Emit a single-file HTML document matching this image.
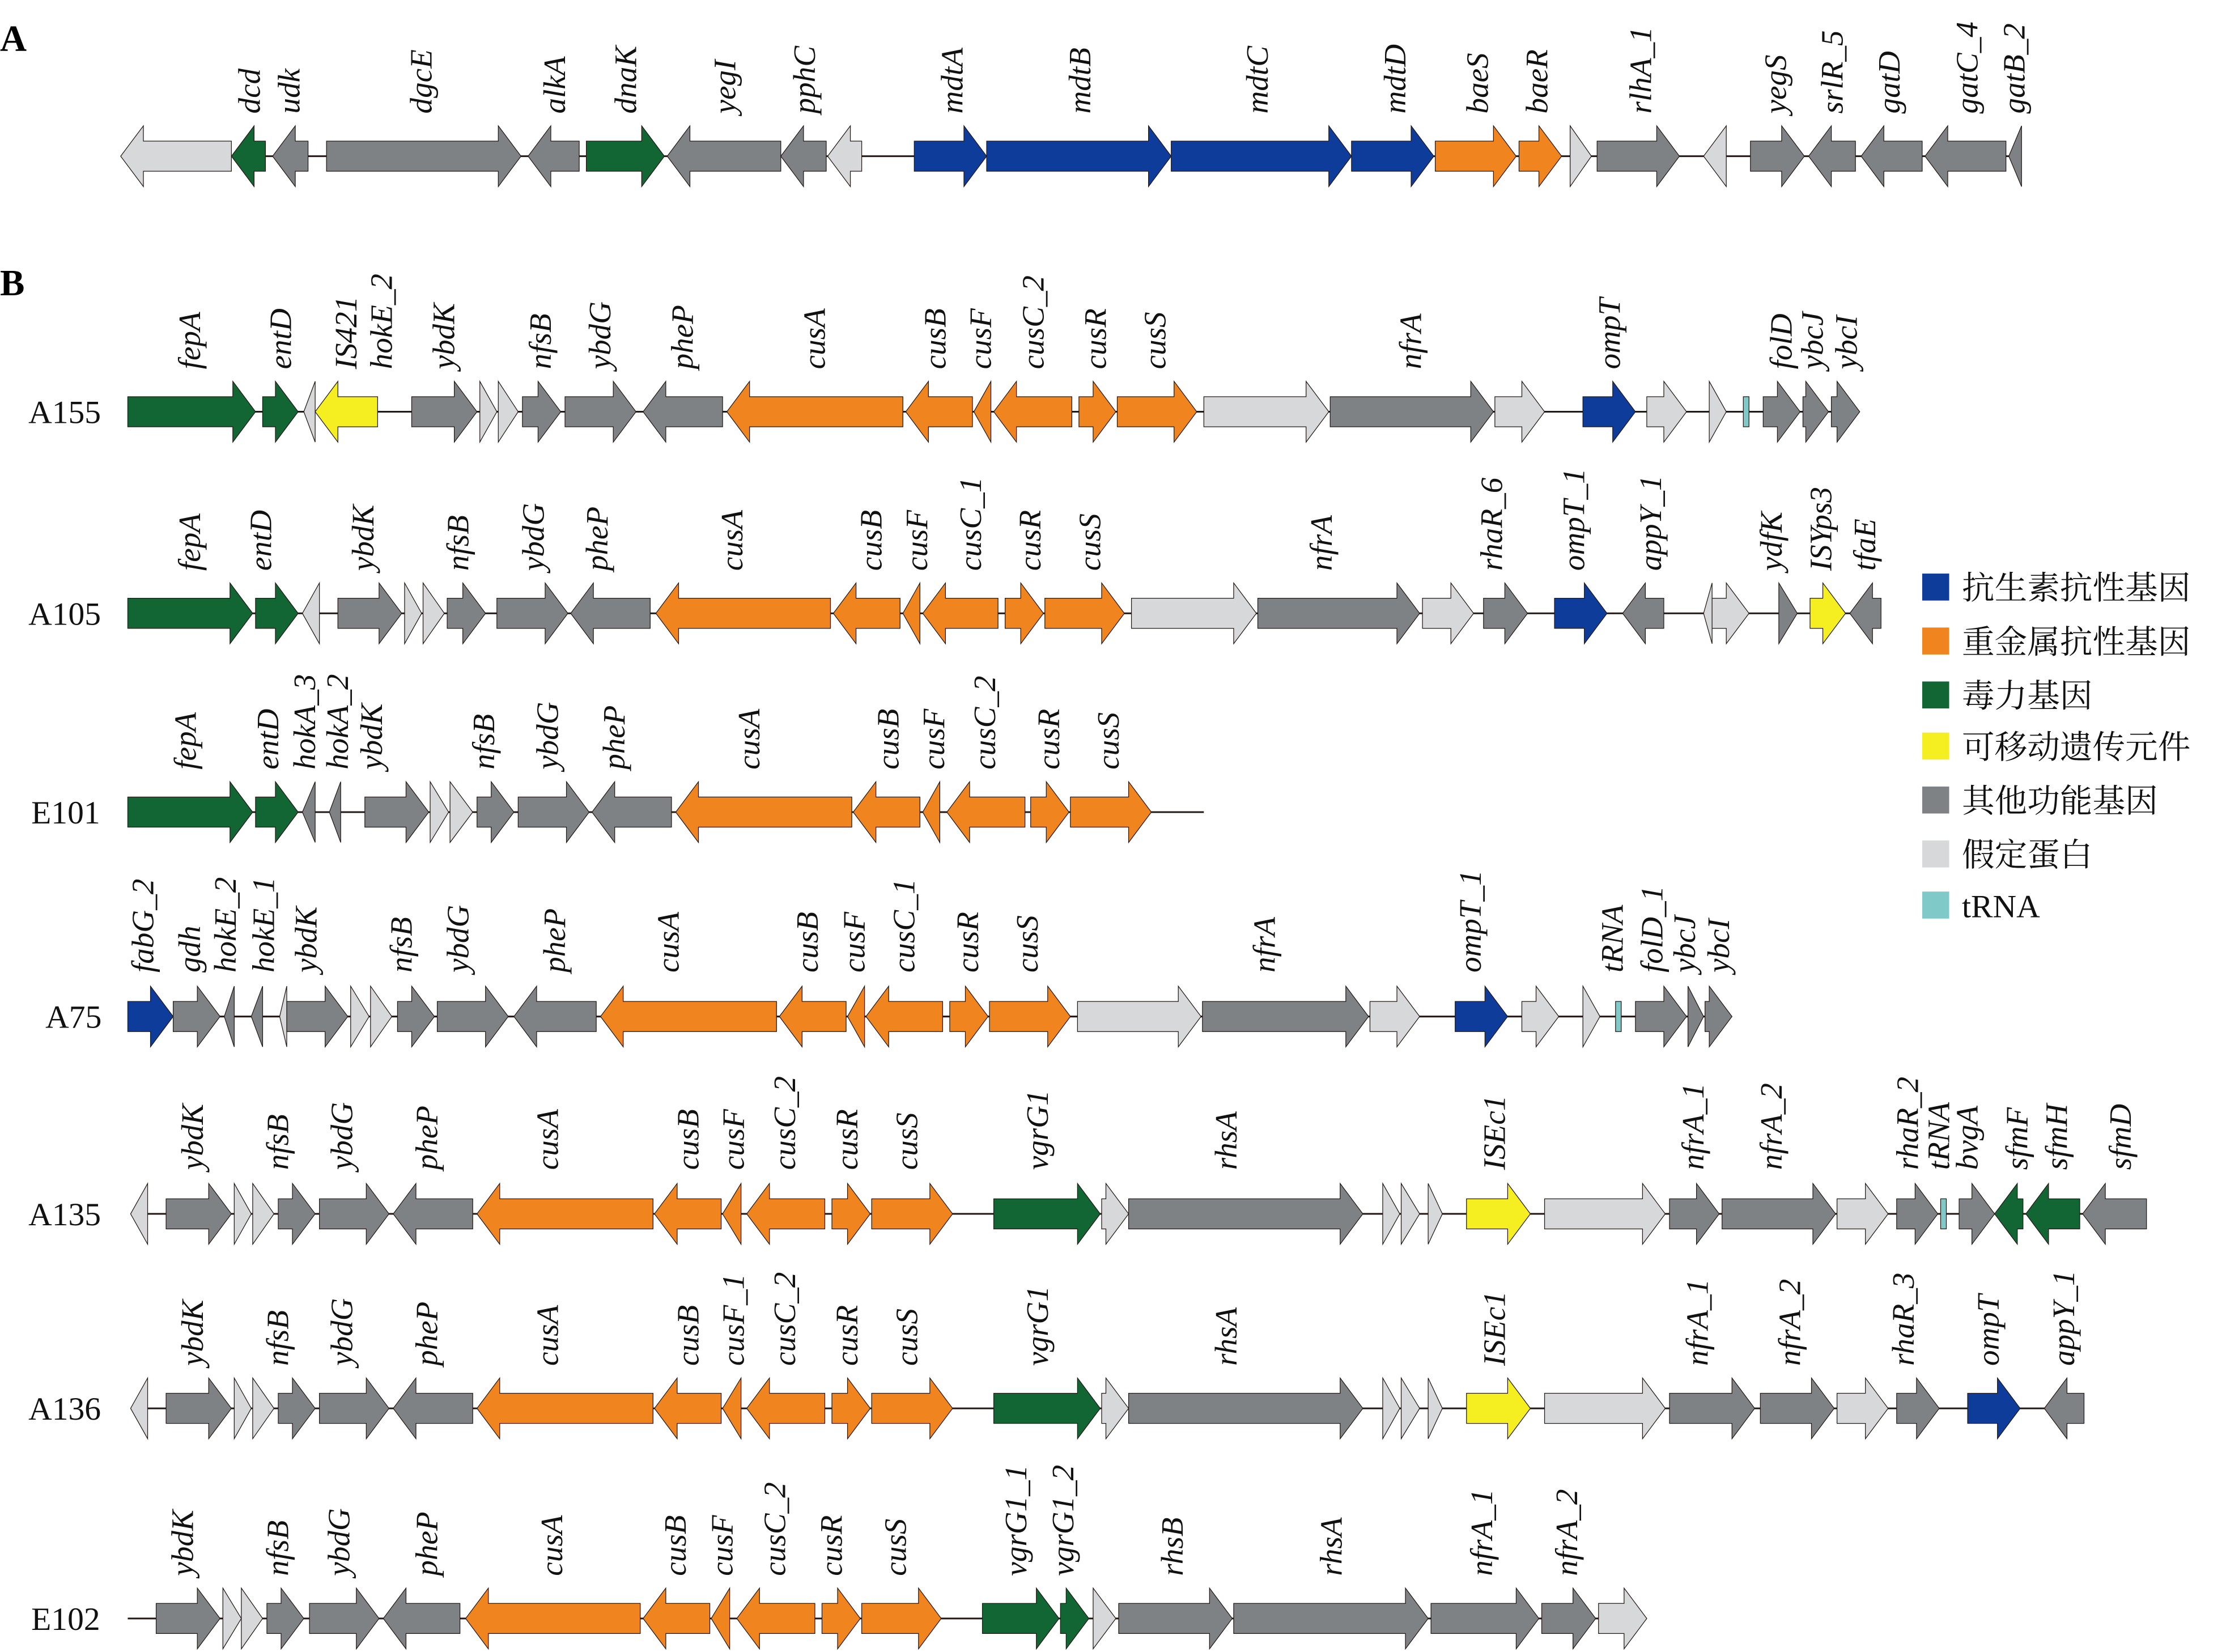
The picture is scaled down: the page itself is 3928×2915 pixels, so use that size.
<!DOCTYPE html>
<html><head><meta charset="utf-8">
<style>
html,body{margin:0;padding:0;background:#fff;}
svg{display:block;}
.l text{font-family:"Liberation Serif",serif;font-style:italic;font-size:22px;fill:#111;}
.r{font-family:"Liberation Serif",serif;font-size:23px;fill:#111;}
.lg{font-family:"Liberation Serif","Noto Serif CJK SC",serif;font-size:23px;fill:#111;}
</style></head>
<body>
<svg id="s" xmlns="http://www.w3.org/2000/svg" width="3928" height="2915" viewBox="0 0 1568 1163.6">
<rect width="1568" height="1164" fill="#fff"/>
<text x="0" y="36" font-family="Liberation Serif,serif" font-weight="bold" font-size="26">A</text>
<text x="0" y="208" font-family="Liberation Serif,serif" font-weight="bold" font-size="26">B</text>
<g class="r">
<text x="20" y="298">A155</text>
<text x="20" y="440">A105</text>
<text x="22" y="580">E101</text>
<text x="32" y="724">A75</text>
<text x="20" y="863">A135</text>
<text x="20" y="1000">A136</text>
<text x="22" y="1148">E102</text>
</g>
<g id="genes"></g>
<!-- labels row A -->
<g class="l">
<text transform="translate(183,80)rotate(-90)">dcd</text>
<text transform="translate(211,80)rotate(-90)">udk</text>
<text transform="translate(304,80)rotate(-90)">dgcE</text>
<text transform="translate(398,80)rotate(-90)">alkA</text>
<text transform="translate(448,80)rotate(-90)">dnaK</text>
<text transform="translate(518,80)rotate(-90)">yegI</text>
<text transform="translate(574,80)rotate(-90)">pphC</text>
<text transform="translate(678,80)rotate(-90)">mdtA</text>
<text transform="translate(768,80)rotate(-90)">mdtB</text>
<text transform="translate(893,80)rotate(-90)">mdtC</text>
<text transform="translate(990,80)rotate(-90)">mdtD</text>
<text transform="translate(1048,80)rotate(-90)">baeS</text>
<text transform="translate(1090,80)rotate(-90)">baeR</text>
<text transform="translate(1163,80)rotate(-90)">rlhA_1</text>
<text transform="translate(1258,80)rotate(-90)">yegS</text>
<text transform="translate(1298,80)rotate(-90)">srlR_5</text>
<text transform="translate(1338,80)rotate(-90)">gatD</text>
<text transform="translate(1393,80)rotate(-90)">gatC_4</text>
<text transform="translate(1426,80)rotate(-90)">gatB_2</text>
</g>
<!-- A155 -->
<g class="l">
<text transform="translate(141,260)rotate(-90)">fepA</text>
<text transform="translate(205,260)rotate(-90)">entD</text>
<text transform="translate(251,260)rotate(-90)">IS421</text>
<text transform="translate(276,260)rotate(-90)">hokE_2</text>
<text transform="translate(320,260)rotate(-90)">ybdK</text>
<text transform="translate(388,260)rotate(-90)">nfsB</text>
<text transform="translate(430,260)rotate(-90)">ybdG</text>
<text transform="translate(488,260)rotate(-90)">pheP</text>
<text transform="translate(581,260)rotate(-90)">cusA</text>
<text transform="translate(666,260)rotate(-90)">cusB</text>
<text transform="translate(698,260)rotate(-90)">cusF</text>
<text transform="translate(735,260)rotate(-90)">cusC_2</text>
<text transform="translate(779,260)rotate(-90)">cusR</text>
<text transform="translate(821,260)rotate(-90)">cusS</text>
<text transform="translate(1001,260)rotate(-90)">nfrA</text>
<text transform="translate(1141,260)rotate(-90)">ompT</text>
<text transform="translate(1262,260)rotate(-90)">folD</text>
<text transform="translate(1284,260)rotate(-90)">ybcJ</text>
<text transform="translate(1308,260)rotate(-90)">ybcI</text>
</g>
<!-- A105 -->
<g class="l">
<text transform="translate(141,402)rotate(-90)">fepA</text>
<text transform="translate(191,402)rotate(-90)">entD</text>
<text transform="translate(263,402)rotate(-90)">ybdK</text>
<text transform="translate(330,402)rotate(-90)">nfsB</text>
<text transform="translate(383,402)rotate(-90)">ybdG</text>
<text transform="translate(428,402)rotate(-90)">pheP</text>
<text transform="translate(523,402)rotate(-90)">cusA</text>
<text transform="translate(621,402)rotate(-90)">cusB</text>
<text transform="translate(653,402)rotate(-90)">cusF</text>
<text transform="translate(691,402)rotate(-90)">cusC_1</text>
<text transform="translate(733,402)rotate(-90)">cusR</text>
<text transform="translate(775,402)rotate(-90)">cusS</text>
<text transform="translate(938,402)rotate(-90)">nfrA</text>
<text transform="translate(1058,402)rotate(-90)">rhaR_6</text>
<text transform="translate(1116,402)rotate(-90)">ompT_1</text>
<text transform="translate(1170,402)rotate(-90)">appY_1</text>
<text transform="translate(1255,402)rotate(-90)">ydfK</text>
<text transform="translate(1290,402)rotate(-90)">ISYps3</text>
<text transform="translate(1321,402)rotate(-90)">tfaE</text>
</g>
<!-- E101 -->
<g class="l">
<text transform="translate(138,542)rotate(-90)">fepA</text>
<text transform="translate(196,542)rotate(-90)">entD</text>
<text transform="translate(222,542)rotate(-90)">hokA_3</text>
<text transform="translate(245,542)rotate(-90)">hokA_2</text>
<text transform="translate(269,542)rotate(-90)">ybdK</text>
<text transform="translate(348,542)rotate(-90)">nfsB</text>
<text transform="translate(393,542)rotate(-90)">ybdG</text>
<text transform="translate(440,542)rotate(-90)">pheP</text>
<text transform="translate(535,542)rotate(-90)">cusA</text>
<text transform="translate(633,542)rotate(-90)">cusB</text>
<text transform="translate(665,542)rotate(-90)">cusF</text>
<text transform="translate(701,542)rotate(-90)">cusC_2</text>
<text transform="translate(746,542)rotate(-90)">cusR</text>
<text transform="translate(788,542)rotate(-90)">cusS</text>
</g>
<!-- A75 -->
<g class="l">
<text transform="translate(108,685)rotate(-90)">fabG_2</text>
<text transform="translate(141,685)rotate(-90)">gdh</text>
<text transform="translate(166,685)rotate(-90)">hokE_2</text>
<text transform="translate(193,685)rotate(-90)">hokE_1</text>
<text transform="translate(223,685)rotate(-90)">ybdK</text>
<text transform="translate(290,685)rotate(-90)">nfsB</text>
<text transform="translate(330,685)rotate(-90)">ybdG</text>
<text transform="translate(398,685)rotate(-90)">pheP</text>
<text transform="translate(478,685)rotate(-90)">cusA</text>
<text transform="translate(576,685)rotate(-90)">cusB</text>
<text transform="translate(609,685)rotate(-90)">cusF</text>
<text transform="translate(644,685)rotate(-90)">cusC_1</text>
<text transform="translate(689,685)rotate(-90)">cusR</text>
<text transform="translate(731,685)rotate(-90)">cusS</text>
<text transform="translate(898,685)rotate(-90)">nfrA</text>
<text transform="translate(1043,685)rotate(-90)">ompT_1</text>
<text transform="translate(1143,685)rotate(-90)">tRNA</text>
<text transform="translate(1171,685)rotate(-90)">folD_1</text>
<text transform="translate(1194,685)rotate(-90)">ybcJ</text>
<text transform="translate(1218,685)rotate(-90)">ybcI</text>
</g>
<!-- A135 -->
<g class="l">
<text transform="translate(143,824)rotate(-90)">ybdK</text>
<text transform="translate(203,824)rotate(-90)">nfsB</text>
<text transform="translate(248,824)rotate(-90)">ybdG</text>
<text transform="translate(308,824)rotate(-90)">pheP</text>
<text transform="translate(393,824)rotate(-90)">cusA</text>
<text transform="translate(492,824)rotate(-90)">cusB</text>
<text transform="translate(524,824)rotate(-90)">cusF</text>
<text transform="translate(560,824)rotate(-90)">cusC_2</text>
<text transform="translate(604,824)rotate(-90)">cusR</text>
<text transform="translate(646,824)rotate(-90)">cusS</text>
<text transform="translate(738,824)rotate(-90)">vgrG1</text>
<text transform="translate(871,824)rotate(-90)">rhsA</text>
<text transform="translate(1060,824)rotate(-90)">ISEc1</text>
<text transform="translate(1200,824)rotate(-90)">nfrA_1</text>
<text transform="translate(1255,824)rotate(-90)">nfrA_2</text>
<text transform="translate(1351,824)rotate(-90)">rhaR_2</text>
<text transform="translate(1373,824)rotate(-90)">tRNA</text>
<text transform="translate(1393,824)rotate(-90)">bvgA</text>
<text transform="translate(1428,824)rotate(-90)">sfmF</text>
<text transform="translate(1456,824)rotate(-90)">sfmH</text>
<text transform="translate(1501,824)rotate(-90)">sfmD</text>
</g>
<!-- A136 -->
<g class="l">
<text transform="translate(143,962)rotate(-90)">ybdK</text>
<text transform="translate(203,962)rotate(-90)">nfsB</text>
<text transform="translate(248,962)rotate(-90)">ybdG</text>
<text transform="translate(308,962)rotate(-90)">pheP</text>
<text transform="translate(393,962)rotate(-90)">cusA</text>
<text transform="translate(492,962)rotate(-90)">cusB</text>
<text transform="translate(524,962)rotate(-90)">cusF_1</text>
<text transform="translate(560,962)rotate(-90)">cusC_2</text>
<text transform="translate(604,962)rotate(-90)">cusR</text>
<text transform="translate(646,962)rotate(-90)">cusS</text>
<text transform="translate(738,962)rotate(-90)">vgrG1</text>
<text transform="translate(871,962)rotate(-90)">rhsA</text>
<text transform="translate(1060,962)rotate(-90)">ISEc1</text>
<text transform="translate(1203,962)rotate(-90)">nfrA_1</text>
<text transform="translate(1268,962)rotate(-90)">nfrA_2</text>
<text transform="translate(1348,962)rotate(-90)">rhaR_3</text>
<text transform="translate(1408,962)rotate(-90)">ompT</text>
<text transform="translate(1461,962)rotate(-90)">appY_1</text>
</g>
<!-- E102 -->
<g class="l">
<text transform="translate(136,1110)rotate(-90)">ybdK</text>
<text transform="translate(203,1110)rotate(-90)">nfsB</text>
<text transform="translate(246,1110)rotate(-90)">ybdG</text>
<text transform="translate(308,1110)rotate(-90)">pheP</text>
<text transform="translate(396,1110)rotate(-90)">cusA</text>
<text transform="translate(483,1110)rotate(-90)">cusB</text>
<text transform="translate(516,1110)rotate(-90)">cusF</text>
<text transform="translate(553,1110)rotate(-90)">cusC_2</text>
<text transform="translate(593,1110)rotate(-90)">cusR</text>
<text transform="translate(638,1110)rotate(-90)">cusS</text>
<text transform="translate(723,1110)rotate(-90)">vgrG1_1</text>
<text transform="translate(756,1110)rotate(-90)">vgrG1_2</text>
<text transform="translate(833,1110)rotate(-90)">rhsB</text>
<text transform="translate(945,1110)rotate(-90)">rhsA</text>
<text transform="translate(1051,1110)rotate(-90)">nfrA_1</text>
<text transform="translate(1111,1110)rotate(-90)">nfrA_2</text>
</g>
<!-- legend -->
<rect x="1354" y="404" width="19" height="19" fill="#0d3c9a"/>
<rect x="1354" y="442" width="19" height="19" fill="#f0841e"/>
<rect x="1354" y="480" width="19" height="19" fill="#116634"/>
<rect x="1354" y="516" width="19" height="19" fill="#f5ee20"/>
<rect x="1354" y="554" width="19" height="19" fill="#7f8284"/>
<rect x="1354" y="592" width="19" height="19" fill="#d6d8d9"/>
<rect x="1354" y="628" width="19" height="19" fill="#7fc9c9"/>
<g class="lg">
<text x="1382" y="422">抗生素抗性基因</text>
<text x="1382" y="460">重金属抗性基因</text>
<text x="1382" y="498">毒力基因</text>
<text x="1382" y="534">可移动遗传元件</text>
<text x="1382" y="572">其他功能基因</text>
<text x="1382" y="610">假定蛋白</text>
<text x="1382" y="646">tRNA</text>
</g>
</svg>
<script>
var C={b:"#0d3c9a",o:"#f0841e",g:"#116634",y:"#f5ee20",d:"#7f8284",l:"#d6d8d9",t:"#7fc9c9"};
var rows=[
[110,85,1422,[["l",85,163,0],["g",163,187,0],["d",192,217,0],["d",230,367,1],["d",372,408,0],["g",413,468,1],["d",470,550,0],["d",550,582,0],["l",583,607,0],["b",644,695,1],["b",695,825,1],["b",825,952,1],["b",952,1010,1],["o",1011,1068,1],["o",1070,1100,1],["l",1106,1121,1],["d",1125,1183,1],["l",1200,1216,0],["d",1233,1271,1],["d",1274,1307,0],["d",1311,1354,0],["d",1356,1413,0],["d",1415,1424,0]]],
[290,90,1310,[["g",90,180,1],["g",185,210,1],["l",214,222,0],["y",222,266,0],["d",290,336,1],["l",338,350,1],["l",351,365,1],["d",368,395,1],["d",398,448,1],["d",453,509,0],["o",512,636,0],["o",638,685,0],["o",686,698,0],["o",700,755,0],["o",760,786,1],["o",787,843,1],["l",848,936,1],["d",937,1052,1],["l",1053,1088,1],["b",1115,1152,1],["l",1160,1188,1],["l",1204,1216,1],["t",1228,1232,2],["d",1242,1268,1],["d",1270,1288,1],["d",1290,1310,1]]],
[432,90,1325,[["g",90,178,1],["g",180,210,1],["l",213,225,0],["d",238,283,1],["l",285,297,1],["l",298,313,1],["d",315,342,1],["d",350,400,1],["d",402,458,0],["o",462,585,0],["o",587,634,0],["o",636,648,0],["o",650,703,0],["o",708,735,1],["o",736,792,1],["l",797,885,1],["d",886,1000,1],["l",1002,1038,1],["d",1045,1076,1],["b",1095,1132,1],["d",1143,1172,0],["l",1200,1206,0],["l",1206,1232,1],["d",1253,1266,1],["y",1275,1300,1],["d",1303,1325,0]]],
[572,90,848,[["g",90,178,1],["g",180,210,1],["d",213,222,0],["d",232,240,0],["d",257,302,1],["l",303,316,1],["l",317,333,1],["d",336,362,1],["d",365,415,1],["d",417,473,0],["o",476,600,0],["o",601,648,0],["o",650,662,0],["o",667,722,0],["o",726,753,1],["o",754,811,1]]],
[716,90,1220,[["b",90,122,1],["d",122,155,1],["d",158,165,0],["d",177,185,0],["l",197,202,0],["d",202,245,1],["l",247,260,1],["l",261,276,1],["d",280,306,1],["d",308,358,1],["d",362,420,0],["o",423,547,0],["o",549,596,0],["o",597,609,0],["o",610,664,0],["o",669,696,1],["o",697,754,1],["l",759,846,1],["d",847,964,1],["l",965,1000,1],["b",1025,1062,1],["l",1072,1098,1],["l",1115,1127,1],["t",1138,1142,2],["d",1152,1188,1],["d",1189,1200,1],["d",1201,1220,1]]],
[855,92,1512,[["l",92,104,0],["d",117,163,1],["l",165,177,1],["l",178,193,1],["d",196,222,1],["d",225,274,1],["d",277,333,0],["o",336,460,0],["o",461,508,0],["o",509,522,0],["o",526,581,0],["o",586,613,1],["o",614,671,1],["g",700,775,1],["l",776,795,1],["d",795,960,1],["l",974,986,1],["l",987,1000,1],["l",1006,1016,1],["y",1033,1078,1],["l",1088,1173,1],["d",1176,1211,1],["d",1213,1293,1],["l",1294,1330,1],["d",1336,1365,1],["t",1367,1371,2],["d",1380,1405,1],["g",1405,1425,0],["g",1427,1465,0],["d",1467,1512,0]]],
[992,92,1468,[["l",92,104,0],["d",117,163,1],["l",165,177,1],["l",178,193,1],["d",196,222,1],["d",225,274,1],["d",277,333,0],["o",336,460,0],["o",461,508,0],["o",509,522,0],["o",526,581,0],["o",586,613,1],["o",614,671,1],["g",700,775,1],["l",776,795,1],["d",795,960,1],["l",974,986,1],["l",987,1000,1],["l",1006,1016,1],["y",1033,1078,1],["l",1088,1173,1],["d",1176,1236,1],["d",1240,1292,1],["l",1294,1330,1],["d",1336,1366,1],["b",1386,1423,1],["d",1440,1468,0]]],
[1140,90,1160,[["d",110,155,1],["l",157,170,1],["l",170,185,1],["d",188,214,1],["d",218,267,1],["d",270,324,0],["o",328,451,0],["o",453,500,0],["o",501,514,0],["o",519,574,0],["o",579,606,1],["o",607,663,1],["g",692,746,1],["g",747,767,1],["l",770,786,1],["d",788,868,1],["d",869,1006,1],["d",1008,1084,1],["d",1086,1124,1],["l",1126,1160,1]]]
];
var s="",B=10.6,H=21.4,L=16;
rows.forEach(function(r){
 var y=r[0];
 s+='<line x1="'+r[1]+'" x2="'+r[2]+'" y1="'+y+'" y2="'+y+'" stroke="#231815" stroke-width="1.2"/>';
 r[3].forEach(function(g){
  var c=C[g[0]],a=g[1],b=g[2],d=g[3],p;
  if(d==2){s+='<rect x="'+a+'" y="'+(y-B)+'" width="'+(b-a)+'" height="'+(2*B)+'" fill="'+c+'" stroke="#231815" stroke-width="0.5"/>';return;}
  var hl=Math.min(L,b-a);
  if(d==1){var m=b-hl;p=[[a,y-B],[m,y-B],[m,y-H],[b,y],[m,y+H],[m,y+B],[a,y+B]];}
  else{var m=a+hl;p=[[b,y-B],[m,y-B],[m,y-H],[a,y],[m,y+H],[m,y+B],[b,y+B]];}
  s+='<polygon points="'+p.map(function(q){return q[0]+","+q[1]}).join(" ")+'" fill="'+c+'" stroke="#231815" stroke-width="0.5"/>';
 });
});
document.getElementById("genes").innerHTML=s;
</script>
</body></html>
